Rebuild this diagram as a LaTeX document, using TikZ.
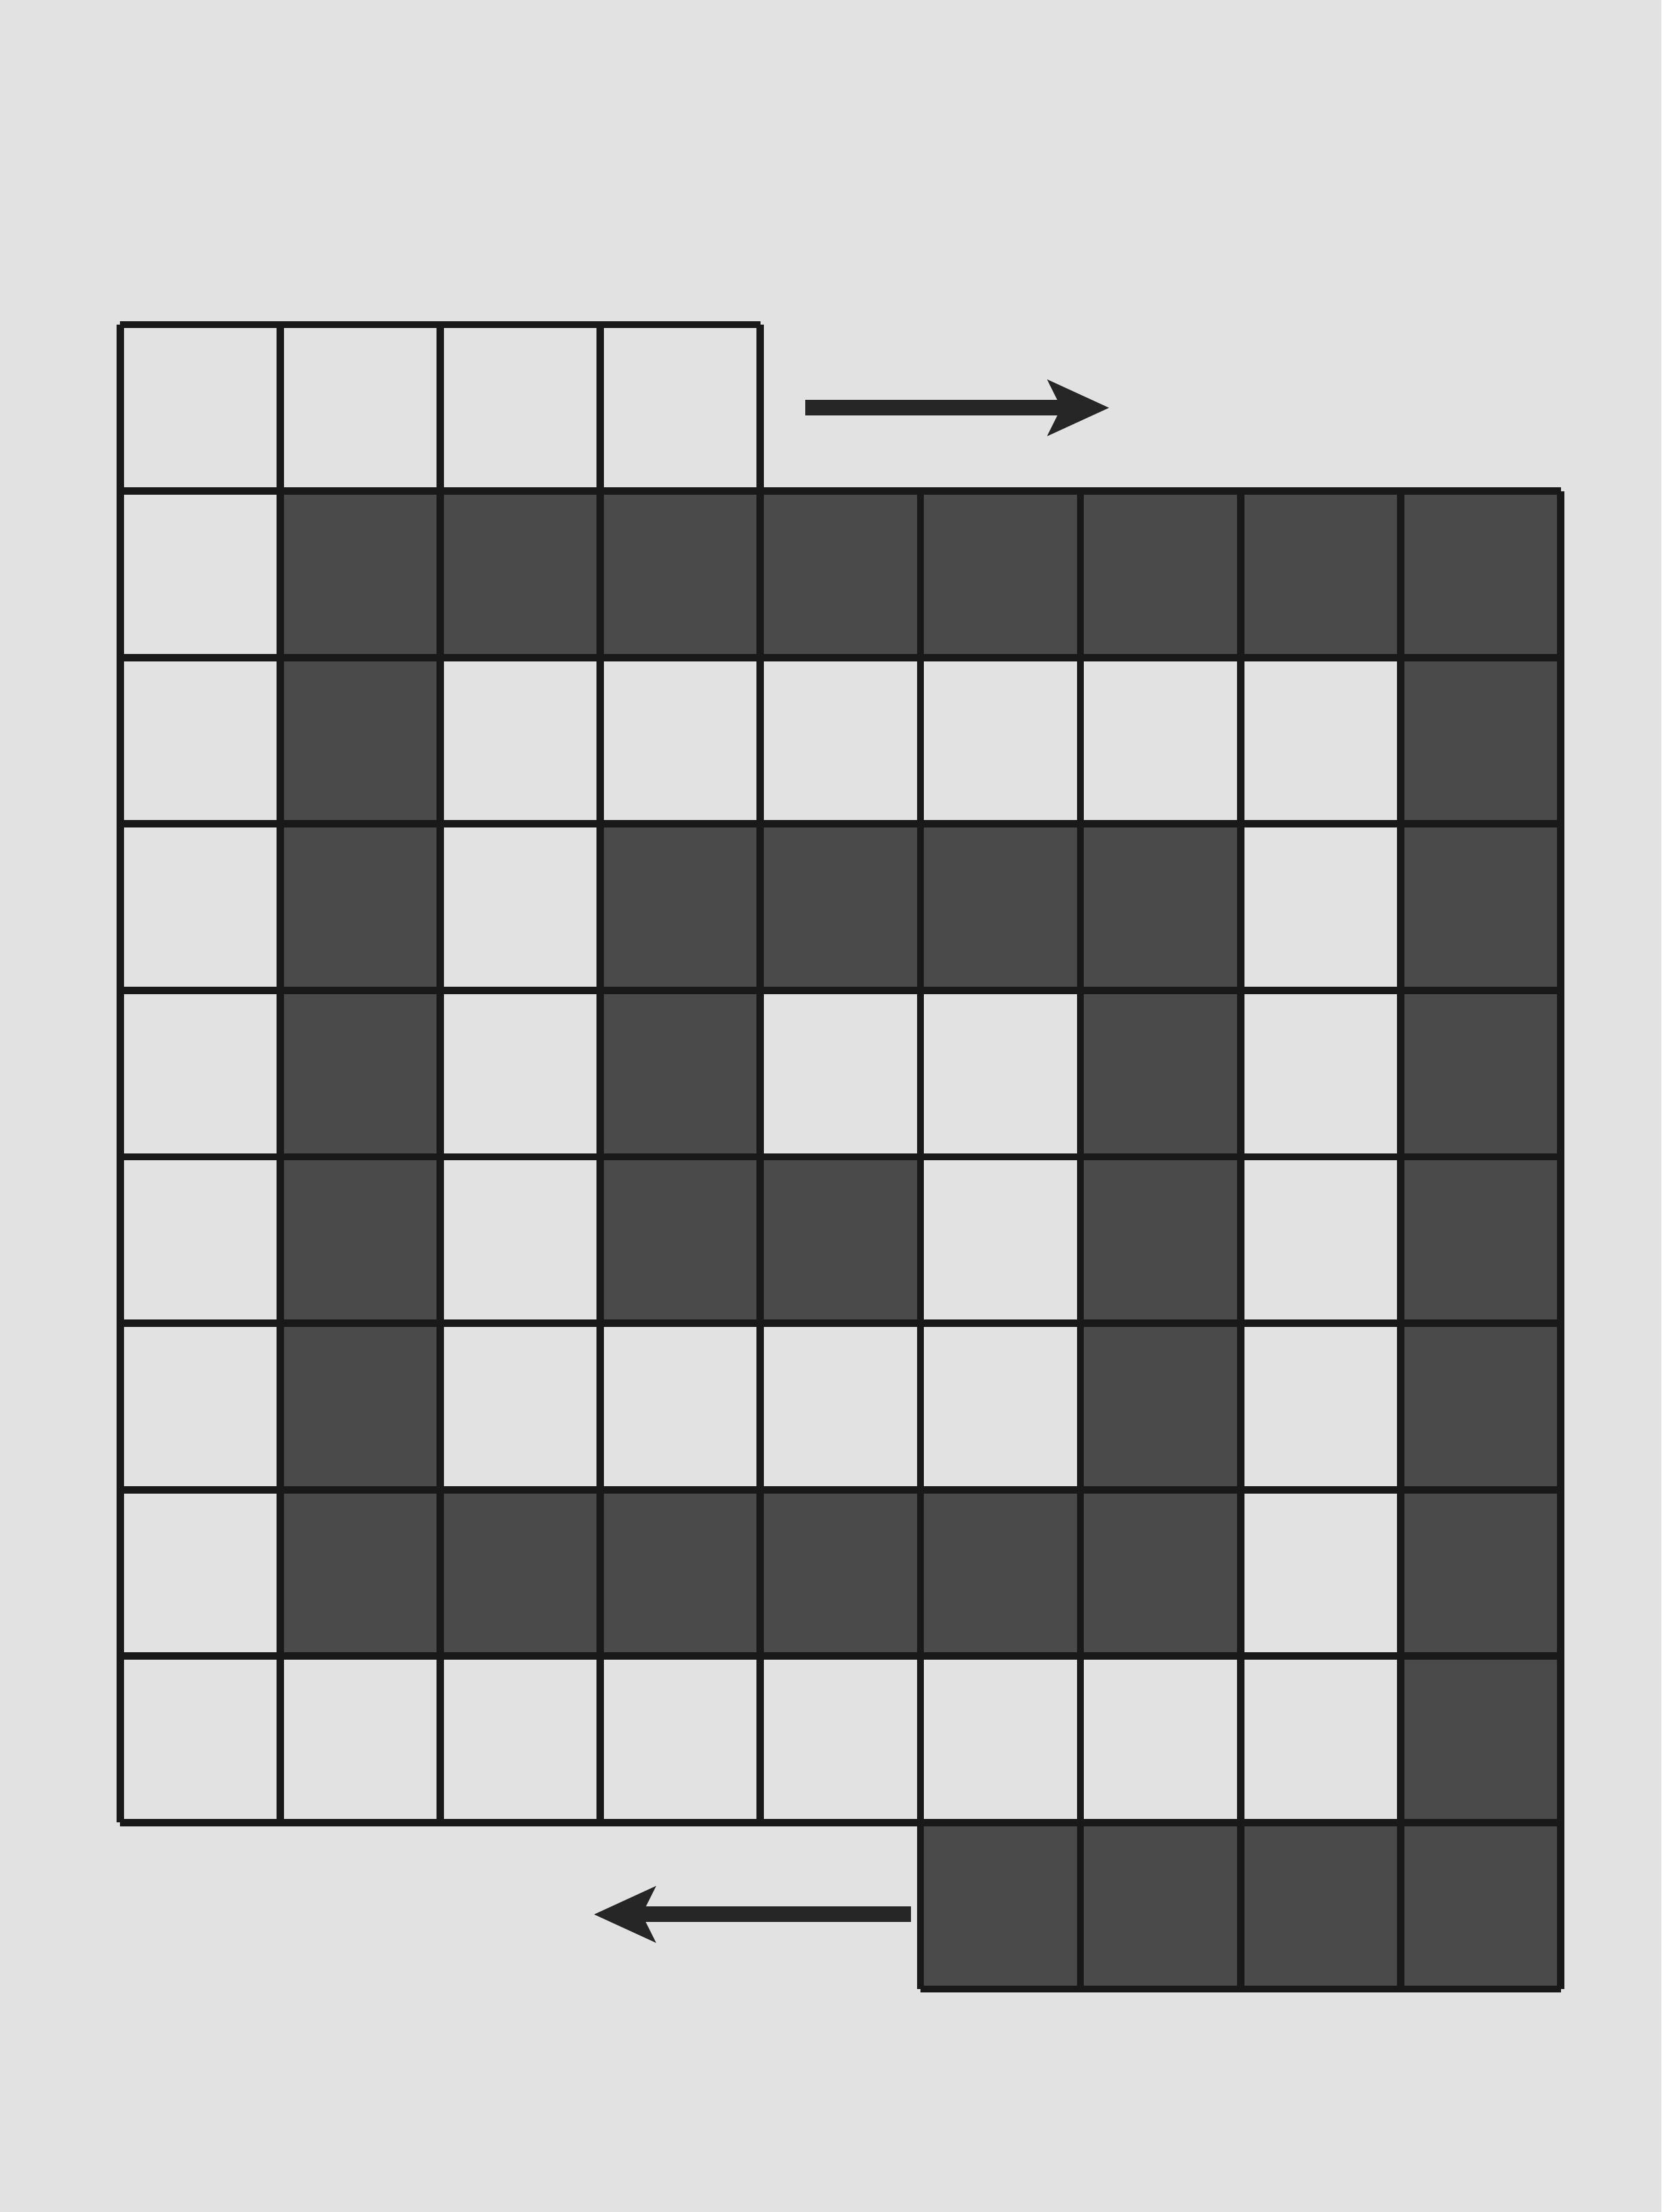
\documentclass[tikz,border=0pt]{standalone}
\usepackage{tikz}
\usetikzlibrary{arrows,arrows.meta,positioning}
\usepackage{xcolor}
\definecolor{paper}{HTML}{E2E2E2}
\definecolor{ink}{HTML}{4A4A4A}

\begin{document}
\begin{tikzpicture}[thick, yscale=1.04, >={Stealth[length=3.8mm,width=3.4mm,inset=0.8mm]}]
\tikzstyle{spiral} = [fill=ink]
\tikzstyle{gridline} = [line width=1.3pt, black!90]
\tikzstyle{move} = [->, line width=2.8pt, black!85]
\useasboundingbox[fill=paper] (-0.75,-11.34) rectangle (9.63,1.95);
% shaded path of the spiral
\fill[spiral] (1,-1) rectangle (9,-2)
	(1,-2) rectangle (2,-8)
	(1,-7) rectangle (7,-8)
	(8,-1) rectangle (9,-10)
	(5,-9) rectangle (9,-10)
	(3,-3) rectangle (7,-4)
	(6,-3) rectangle (7,-8)
	(3,-3) rectangle (4,-6)
	(4,-5) rectangle (5,-6);
\draw[gridline] (0,-1) grid (4,0)
	(0,-9) grid (9,-1)
	(5,-10) grid (9,-9);
\coordinate (ta) at (4.28,-0.5);
\coordinate (tb) at (6.18,-0.5);
\coordinate (ba) at (4.94,-9.55);
\coordinate (bb) at (2.96,-9.55);
\draw[move] (ta) -- (tb);
\draw[move] (ba) -- (bb);
\end{tikzpicture}
\end{document}
